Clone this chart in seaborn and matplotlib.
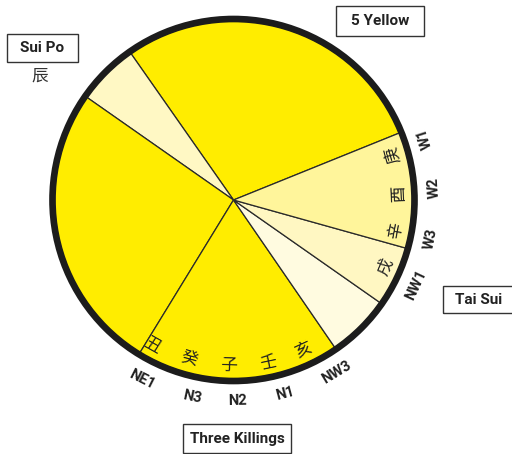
import numpy as np
import matplotlib
matplotlib.use("Agg")
import matplotlib.pyplot as plt
import seaborn as sns
from matplotlib.patches import Circle, Rectangle

# ---- data ----
sectors = ["5 Yellow", "Sui Po", "NE", "Three Killings", "NW3", "NW1", "W"]
sector_degrees = [103, 20, 93.5, 66, 20.5, 19.4, 37.6]
sector_colors = ["#FFED00", "#FFF8C4", "#FFED00", "#FFED00", "#FFFBE0", "#FFF7C2", "#FFF59B"]
start_angle = 22

compass_labels = ["W1", "W2", "W3", "NW1", "NW3", "N1", "N2", "N3", "NE1"]
compass_angles = [18, 3.5, -11, -25, -59, -75, -89, -102, -117]

char_labels = ["庚", "酉", "辛", "戌", "丑", "癸", "子", "壬", "亥"]
char_angles = [15.7, 2.4, -10.6, -23.8, -119.2, -105.4, -91.7, -78.1, -65]

box_labels = ["5 Yellow", "Sui Po", "Tai Sui", "Three Killings"]
sui_po_char = "辰"

# ---- style ----
sns.set_theme(style="white")
plt.rcParams["font.family"] = ["Roboto", "Noto Sans CJK SC", "DejaVu Sans"]

W, H = 512, 454
fig = plt.figure(figsize=(W / 100, H / 100), dpi=100)
ax = fig.add_axes([0, 0, 1, 1])

cx, cy = 233.5, H - 200
R = 179

ax.pie(sector_degrees, colors=sector_colors, startangle=start_angle,
       counterclock=True, radius=R, center=(cx, cy), frame=True,
       wedgeprops=dict(edgecolor="#2a2a2a", linewidth=0.9))

# outer ring
ax.add_patch(Circle((cx, cy), 181, fill=False, edgecolor="#1c1c1c", linewidth=4.8, zorder=5))

def polar(theta, r):
    t = np.deg2rad(theta)
    return cx + r * np.cos(t), cy + r * np.sin(t)

for lab, th in zip(compass_labels, compass_angles):
    x, y = polar(th, 201)
    ax.text(x, y, lab, ha="center", va="center", rotation=th + 90,
            rotation_mode="anchor", fontsize=10.5, fontweight="bold",
            color="#222222", zorder=6)

for lab, th in zip(char_labels, char_angles):
    x, y = polar(th, 166)
    ax.text(x, y, lab, ha="center", va="center", rotation=th + 90,
            rotation_mode="anchor", fontsize=12, family=["Noto Sans CJK SC"],
            color="#222222", zorder=6)

# boxed annotations (pixel coords: left, top, right, bottom)
boxes = [(336, 6, 424, 36), (7, 34, 78, 62), (443, 286, 520, 313), (183, 424, 291, 453)]
for lab, (l, t, r, b) in zip(box_labels, boxes):
    ax.add_patch(Rectangle((l, H - b), r - l, b - t, fill=False,
                           edgecolor="#333333", linewidth=1.0, zorder=6))
    tx = (l + min(r, 512)) / 2 if lab != "Tai Sui" else 479
    ax.text(tx, H - (t + b) / 2, lab, ha="center", va="center",
            fontsize=11, fontweight="bold", color="#222222", zorder=7)

ax.text(40, H - 76, sui_po_char, ha="center", va="center", fontsize=12,
        family=["Noto Sans CJK SC"], color="#333333")

ax.set_xlim(0, W)
ax.set_ylim(0, H)
ax.set_aspect("equal")
ax.axis("off")
fig.savefig("out.png", dpi=100, facecolor="white")
